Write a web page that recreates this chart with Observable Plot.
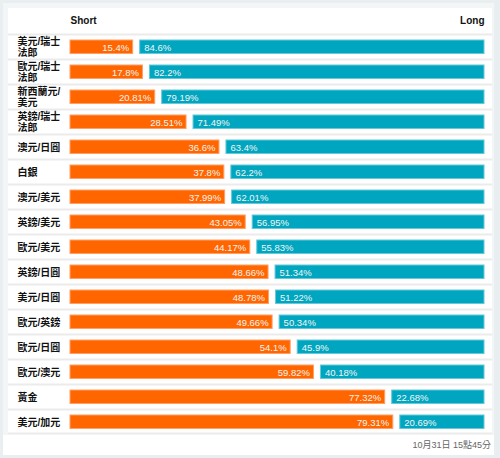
<!DOCTYPE html>
<html>
<head>
<meta charset="utf-8">
<script src="https://cdn.jsdelivr.net/npm/d3@7"></script>
<script src="https://cdn.jsdelivr.net/npm/@observablehq/plot@0.6"></script>
<style>
  html, body { margin: 0; padding: 0; }
  body { width: 500px; height: 458px; overflow: hidden; background: #e9eef0; position: relative; font-family: "Liberation Sans", Arial, sans-serif; }
  #wrap { position: absolute; left: 3px; top: 3px; width: 491px; height: 452px; background: #f3f6f7; }
  #table { position: absolute; left: 5px; top: 5px; width: 484px; height: 427px; background: #fff; }
  #table svg { display: block; }
  #footer { position: absolute; left: 0; top: 432px; width: 491px; height: 20px; background: #fff;
    font-family: "Liberation Sans", "Noto Sans CJK TC", sans-serif; font-size: 9px; color: #666;
    text-align: right; line-height: 20px; box-sizing: border-box; padding-right: 3px; }
</style>
</head>
<body>
<div id="wrap">
  <div id="table"></div>
  <div id="footer">10月31日 15點45分</div>
</div>
<script>
const categories = ["美元/瑞士法郎","歐元/瑞士法郎","新西蘭元/美元","英鎊/瑞士法郎","澳元/日圓","白銀","澳元/美元","英鎊/美元","歐元/美元","英鎊/日圓","美元/日圓","歐元/英鎊","歐元/日圓","歐元/澳元","黃金","美元/加元"];
const rowLabels = ["美元/瑞士\n法郎","歐元/瑞士\n法郎","新西蘭元/\n美元","英鎊/瑞士\n法郎","澳元/日圓","白銀","澳元/美元","英鎊/美元","歐元/美元","英鎊/日圓","美元/日圓","歐元/英鎊","歐元/日圓","歐元/澳元","黃金","美元/加元"];
const shortValues = [15.4,17.8,20.81,28.51,36.6,37.8,37.99,43.05,44.17,48.66,48.78,49.66,54.1,59.82,77.32,79.31];
const longValues = [84.6,82.2,79.19,71.49,63.4,62.2,62.01,56.95,55.83,51.34,51.22,50.34,45.9,40.18,22.68,20.69];
const headers = ["Short", "Long"];

const rows = categories.map((c, i) => ({cat: c, label: rowLabels[i], short: shortValues[i], long: longValues[i]}));

const W = 484, H = 427, mTop = 25, mLeft = 62, mRight = 15;
const bw = (H - mTop) / categories.length;
const GAP = 7;
const ORANGE = "#ff6600", TEAL = "#00a6bf";

const chart = Plot.plot({
  width: W,
  height: H,
  marginTop: mTop,
  marginBottom: 0,
  marginLeft: mLeft,
  marginRight: mRight,
  style: {background: "#fff", fontFamily: "'Liberation Sans', Arial, sans-serif"},
  x: {domain: [0, 100], axis: null},
  y: {domain: categories, axis: null, padding: 0},
  marks: [
    Plot.ruleY(categories, {y: d => d, dy: -bw / 2, insetLeft: -mLeft, insetRight: -mRight, stroke: "#ebebeb", strokeWidth: 2}),
    Plot.ruleY([categories[categories.length - 1]], {y: d => d, dy: bw / 2 - 1, insetLeft: -mLeft, insetRight: -mRight, stroke: "#ebebeb", strokeWidth: 2}),
    Plot.barX(rows, {y: "cat", x1: 0, x2: "short", fill: ORANGE, stroke: "#ff9f66", strokeWidth: 1, insetTop: 6, insetBottom: 5.5}),
    Plot.barX(rows, {y: "cat", x1: "short", x2: d => d.short + d.long, dx: GAP, fill: TEAL, stroke: "#66c8d8", strokeWidth: 1, insetTop: 6, insetBottom: 5.5}),
    Plot.text(rows, {y: "cat", x: "short", text: d => d.short + "%", textAnchor: "end", dx: -4, dy: 0.5, fill: "#f4f4f4", fontSize: 9.5}),
    Plot.text(rows, {y: "cat", x: "short", text: d => d.long + "%", textAnchor: "start", dx: GAP + 4, dy: 0.5, fill: "#f4f4f4", fontSize: 9.5}),
    Plot.text(rows, {y: "cat", text: "label", frameAnchor: "left", dx: -53, textAnchor: "start", fontSize: 10, lineHeight: 1.12, fontWeight: "bold", fill: "#111", fontFamily: "'Liberation Sans', 'Noto Sans CJK TC', sans-serif"}),
    Plot.text([headers[0]], {frameAnchor: "top-left", lineAnchor: "middle", dy: -mTop / 2, textAnchor: "start", fontSize: 10, fontWeight: "bold", fill: "#111"}),
    Plot.text([headers[1]], {frameAnchor: "top-right", lineAnchor: "middle", dy: -mTop / 2, dx: GAP, textAnchor: "end", fontSize: 10, fontWeight: "bold", fill: "#111"})
  ]
});
document.getElementById("table").appendChild(chart);
</script>
</body>
</html>
